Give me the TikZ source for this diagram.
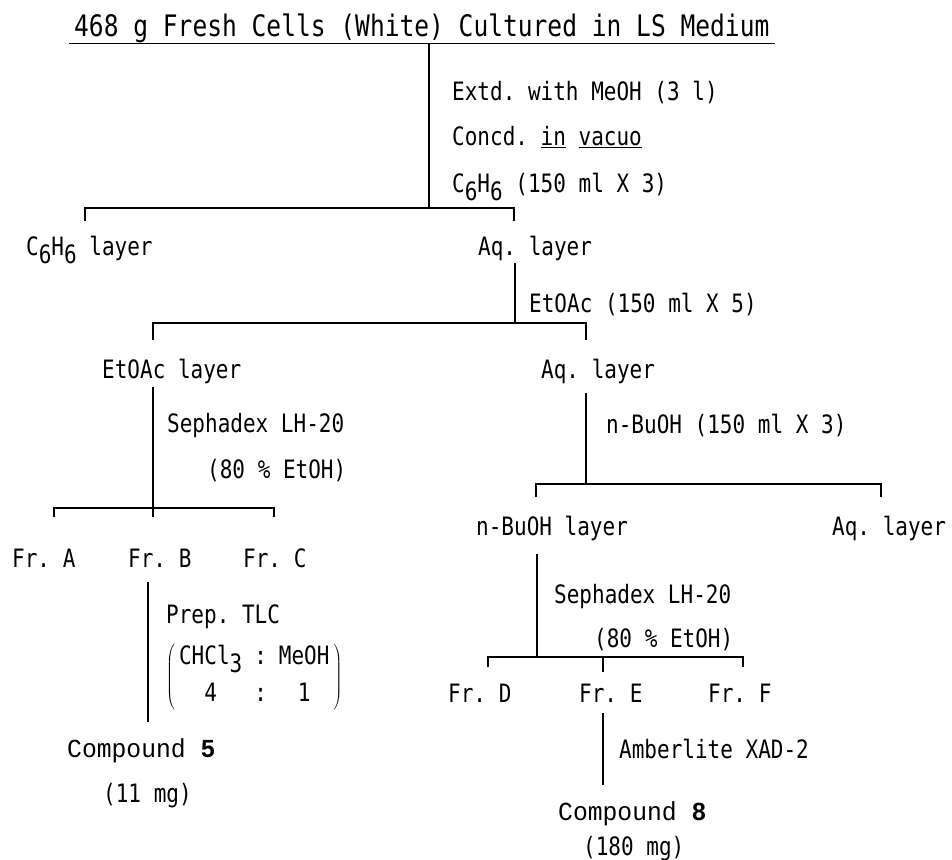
\documentclass[tikz,border=0pt]{standalone}
\usepackage{fontspec}
\newfontfamily\flowfont[FakeStretch=0.83]{DejaVu Sans Mono}
\newfontfamily\cmpdfont[FakeStretch=0.95]{Liberation Mono}
\frenchspacing
% lowered digit, as the typewriter sets it
\newcommand{\lowsub}[1]{\raisebox{-0.33em}{#1}}
% thick underline
\newcommand{\undl}[1]{\setbox0\hbox{#1}\rlap{\rule[-3pt]{\wd0}{1.3pt}}#1}

\begin{document}
\begin{tikzpicture}[x=1pt, y=-1pt,
  lbl/.style={inner sep=0pt, anchor=base west, font=\flowfont\fontsize{25.3}{29}\selectfont},
  cmpd/.style={inner sep=0pt, anchor=base west, font=\cmpdfont\fontsize{26}{30}\selectfont},
  link/.style={line width=1.8pt},
  tick/.style={link, shorten <=#1, shorten >=#1}]
\useasboundingbox (0,0) rectangle (952,859);

% Starting material
\node[lbl, font=\flowfont\fontsize{29.6}{34}\selectfont, inner xsep=5pt] (cells) at (69,37) {468 g Fresh Cells (White) Cultured in LS Medium};
\draw[link] (cells.south west) -- (cells.south east);

% Extraction, benzene partition
\coordinate (s1) at (429,208);
\draw[link] (cells.south -| s1) -- (s1);
\node[lbl] (extd) at (452,100) {Extd. with MeOH (3 l)};
\node[lbl] (concd) at (452,145) {Concd. \undl{in} \undl{vacuo}};
\node[lbl] (benz) at (452,192) {C\lowsub{6}H\lowsub{6} (150 ml X 3)};
\node[lbl] (c6h6) at (26,255) {C\lowsub{6}H\lowsub{6} layer};
\node[lbl] (aq1) at (478,255) {Aq. layer};
\coordinate (b1l) at (85,208);
\coordinate (b1r) at (514,208);
\draw[tick=14pt] (b1l |- c6h6.north) -- (b1l) -- (b1r) -- (b1r |- aq1.north);

% EtOAc partition
\coordinate (s2) at (515,323);
\draw[link, shorten <=2pt] (aq1.south -| s2) -- (s2);
\node[lbl] (etoacx) at (529,312) {EtOAc (150 ml X 5)};
\node[lbl] (etoac) at (102,378) {EtOAc layer};
\node[lbl] (aq2) at (541,378) {Aq. layer};
\coordinate (b2l) at (153,323);
\coordinate (b2r) at (586,323);
\draw[tick=18pt] (b2l |- etoac.north) -- (b2l) -- (b2r) -- (b2r |- aq2.north);

% EtOAc layer -> Fr. A-C
\coordinate (s3) at (153,508);
\node[lbl] (seph1) at (167,432) {Sephadex LH-20};
\node[lbl] (etoh1) at (207,478) {(80 \% EtOH)};
\node[lbl] (fra) at (12,567) {Fr. A};
\node[lbl] (frb) at (128,567) {Fr. B};
\node[lbl] (frc) at (243,567) {Fr. C};
\draw[link, shorten <=4pt, shorten >=31pt] (etoac.south -| s3) -- (s3 |- frb.north);
\coordinate (b3l) at (54,508);
\coordinate (b3r) at (274,508);
\draw[tick=31pt] (b3l |- fra.north) -- (b3l) -- (b3r) -- (b3r |- frc.north);

% Fr. B -> compound 5
\coordinate (cb) at (148,722);
\draw[link, shorten <=15pt] (frb.south -| cb) -- (cb);
\node[lbl] (prep) at (166,623) {Prep. TLC};
\node[lbl, anchor=west] (solv) at (166,677) {$\left(\,\begin{tabular}{@{}c@{\hspace{12pt}}c@{\hspace{12pt}}c@{}}CHCl\lowsub{3} & : & MeOH\\[8pt] 4 & : & 1\end{tabular}\,\right)$};
\node[cmpd] (cmpd5) at (67,757) {Compound \textbf{5}};
\node[lbl] (mg5) at (103,802) {(11 mg)};

% Aq. layer -> n-BuOH partition
\coordinate (s4) at (586,484);
\draw[link, shorten <=9pt] (aq2.south -| s4) -- (s4);
\node[lbl] (buohx) at (606,433) {n-BuOH (150 ml X 3)};
\node[lbl] (nbuoh) at (476,535) {n-BuOH layer};
\node[lbl] (aq3) at (832,535) {Aq. layer};
\coordinate (b4l) at (536,484);
\coordinate (b4r) at (881,484);
\draw[tick=18pt] (b4l |- nbuoh.north) -- (b4l) -- (b4r) -- (b4r |- aq3.north);

% n-BuOH layer -> Fr. D-F
\coordinate (s5) at (537,657);
\draw[link, shorten <=14pt] (nbuoh.south -| s5) -- (s5);
\node[lbl] (seph2) at (554,603) {Sephadex LH-20};
\node[lbl] (etoh2) at (594,647) {(80 \% EtOH)};
\node[lbl] (frd) at (448,702) {Fr. D};
\node[lbl] (fre) at (579,702) {Fr. E};
\node[lbl] (frf) at (708,702) {Fr. F};
\coordinate (b5l) at (488,657);
\coordinate (b5m) at (603,657);
\coordinate (b5r) at (743,657);
\draw[tick=16pt] (b5l |- frd.north) -- (b5l) -- (b5r) -- (b5r |- frf.north);
\draw[link, shorten >=11pt] (b5m) -- (b5m |- fre.north);

% Fr. E -> compound 8
\coordinate (ce) at (603,785);
\draw[link, shorten <=11pt] (fre.south -| ce) -- (ce);
\node[lbl] (amb) at (619,758) {Amberlite XAD-2};
\node[cmpd] (cmpd8) at (558,820) {Compound \textbf{8}};
\node[lbl] (mg8) at (583,855) {(180 mg)};

\end{tikzpicture}
\end{document}
